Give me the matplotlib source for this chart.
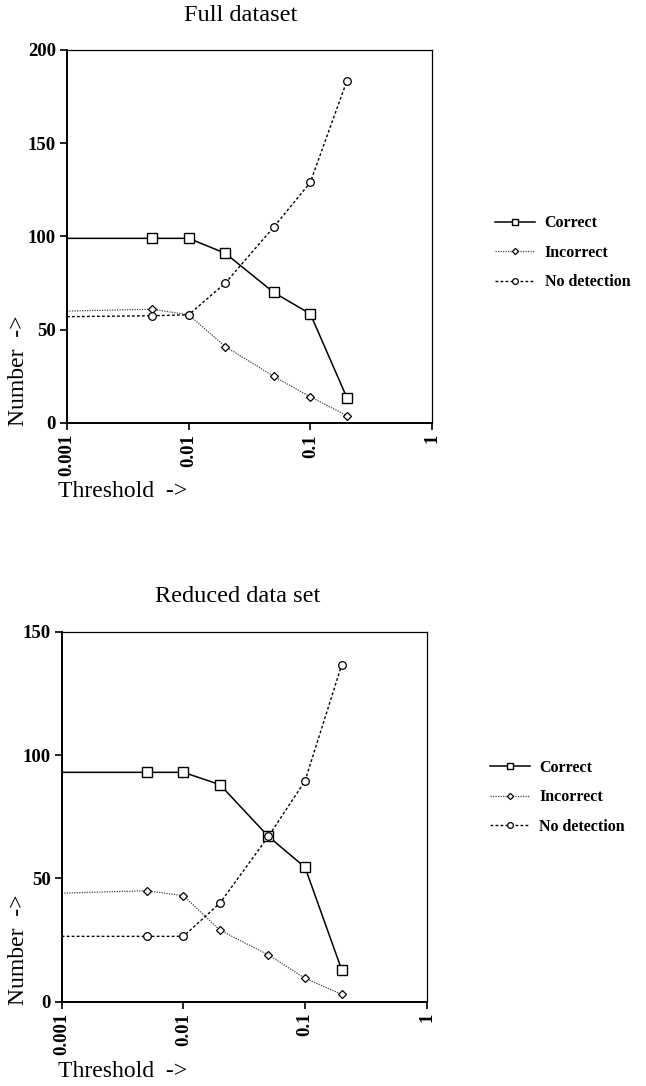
import matplotlib
matplotlib.use("Agg")
import matplotlib.pyplot as plt

plt.rcParams['font.family'] = ['Liberation Serif', 'DejaVu Serif']

# Detection thresholds (log scale)
thresholds = [0.001, 0.005, 0.01, 0.02, 0.05, 0.1, 0.2]

# Full dataset
full_correct = [99, 99, 99, 91, 70, 58.5, 13.5]
full_incorrect = [60, 61, 58, 41, 25, 14, 4]
full_nodetect = [57, 57.5, 58, 75, 105, 129, 183.5]

# Reduced data set
red_correct = [93, 93, 93, 88, 67, 54.5, 13]
red_incorrect = [44, 45, 43, 29, 19, 9.5, 3]
red_nodetect = [26.5, 26.5, 26.5, 40, 67, 89.5, 136.5]

x_ticks = [0.001, 0.01, 0.1, 1]
x_ticklabels = ['0.001', '0.01', '0.1', '1']

fig = plt.figure(figsize=(6.46, 10.86), dpi=100)

panels = [
    dict(rect=[0.1037, 0.6105, 0.565, 0.3435], title="Full dataset", ymax=200,
         yticks=[0, 50, 100, 150, 200], series=(full_correct, full_incorrect, full_nodetect),
         title_xy=(0.372, 0.986), num_y=0.6105, thr_y=0.547, leg_y=0.456),
    dict(rect=[0.0955, 0.0776, 0.565, 0.3407], title="Reduced data set", ymax=150,
         yticks=[0, 50, 100, 150], series=(red_correct, red_incorrect, red_nodetect),
         title_xy=(0.368, 0.4505), num_y=0.0776, thr_y=0.013, leg_y=0.553),
]

for p in panels:
    ax = fig.add_axes(p['rect'])
    correct, incorrect, nodetect = p['series']
    skip_first = slice(1, None)
    ax.plot(thresholds, correct, color='black', lw=1.1, ls='-', marker='s',
            ms=6.5, mfc='white', mec='black', mew=1.0, markevery=skip_first,
            label='Correct')
    ax.plot(thresholds, incorrect, color='#444444', lw=0.9, ls=(0, (1, 1)),
            marker='D', ms=4.2, mfc='white', mec='black', mew=0.9,
            markevery=skip_first, label='Incorrect')
    ax.plot(thresholds, nodetect, color='black', lw=1.0, ls=(0, (2, 1.6)),
            marker='o', ms=5.5, mfc='white', mec='black', mew=0.9,
            markevery=skip_first, label='No detection')

    ax.set_xscale('log')
    ax.set_xlim(0.001, 1)
    ax.set_ylim(0, p['ymax'])
    ax.set_xticks(x_ticks)
    ax.set_xticklabels(x_ticklabels, rotation=90, fontsize=13.5, fontweight='bold')
    ax.xaxis.set_minor_locator(matplotlib.ticker.NullLocator())
    ax.set_yticks(p['yticks'])
    ax.set_yticklabels([str(v) for v in p['yticks']], fontsize=13.5, fontweight='bold')
    ax.tick_params(axis='both', direction='out', length=5, width=1.2, pad=3,
                   color='black')
    for side in ('left', 'bottom'):
        ax.spines[side].set_linewidth(1.4)
    for side in ('top', 'right'):
        ax.spines[side].set_linewidth(0.9)

    fig.text(p['title_xy'][0], p['title_xy'][1], p['title'], ha='center',
             va='center', fontsize=17.5)
    fig.text(0.012, p['num_y'] - 0.003, "Number  ->", rotation=90, ha='left',
             va='bottom', fontsize=17)
    fig.text(0.09, p['thr_y'], "Threshold  ->", ha='left', va='center',
             fontsize=17)

    ax.legend(loc='center left', bbox_to_anchor=(1.173, p['leg_y']),
              bbox_transform=ax.transAxes, frameon=False,
              borderaxespad=0, borderpad=0, markerscale=0.75,
              handlelength=2.5, handletextpad=0.6, labelspacing=0.85,
              prop=dict(weight='bold', size=11.5))

fig.savefig("out.png", dpi=100, facecolor='white')
